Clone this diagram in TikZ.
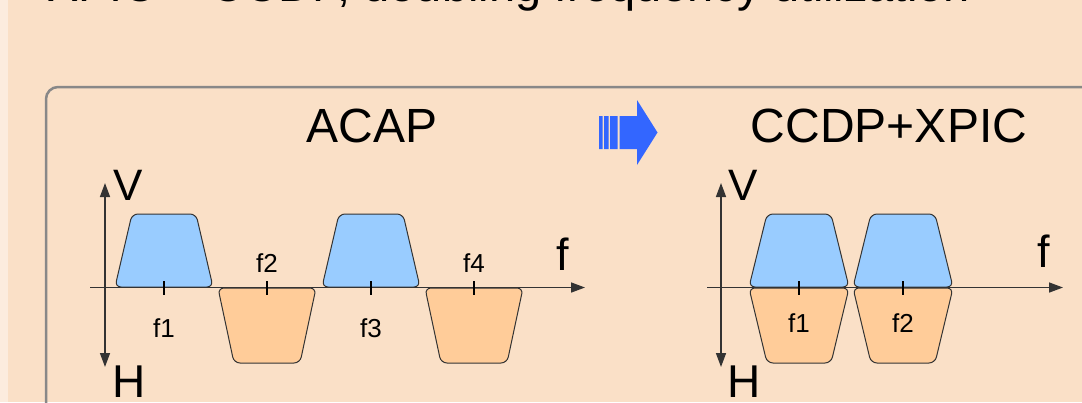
\documentclass[tikz,border=0pt]{standalone}
\usepackage{fontspec}
\setmainfont{Liberation Sans}
\usepackage{xcolor}
\usepackage{tikz}
\usetikzlibrary{arrows.meta,positioning}
\definecolor{slidebg}{RGB}{250,224,199}
\definecolor{slideedge}{RGB}{252,236,222}
\definecolor{boxgray}{RGB}{136,136,136}
\definecolor{axisgray}{RGB}{51,51,51}
\definecolor{lobeblue}{RGB}{153,204,255}
\definecolor{lobeorange}{RGB}{255,204,153}
\definecolor{movblue}{RGB}{51,102,255}

\begin{document}
\begin{tikzpicture}[x=1pt, y=-1pt,
  axis/.style={draw=axisgray, line width=1.5pt, {Triangle[length=14pt,width=10pt]}-{Triangle[length=14pt,width=10pt]}},
  faxis/.style={draw=axisgray, line width=1.5pt, -{Triangle[length=14pt,width=10pt]}},
  vlobe/.style={draw=axisgray, line width=1pt, fill=lobeblue, rounded corners=6pt},
  hlobe/.style={draw=axisgray, line width=1pt, fill=lobeorange, rounded corners=6pt},
  tick/.style={draw=black, line width=1.2pt},
  lbl/.style={inner sep=0pt, text=black}]
  \useasboundingbox (0,0) rectangle (1082,402);
  \clip (0,0) rectangle (1082,402);
  \fill[slidebg] (0,0) rectangle (1082,402);
  \fill[slideedge] (0,0) rectangle (8,402);
  \node[lbl, anchor=base west, font=\fontsize{47}{56}\selectfont] (title) at (47,1) {XPIC + CCDP, doubling frequency utilization};
  \draw[boxgray, line width=2.5pt, rounded corners=12pt] (46,440) -- (46,87) -- (1120,87);

  \node[lbl, anchor=base, font=\fontsize{48}{58}\selectfont] (acap) at (372,142) {ACAP};
  \node[lbl, anchor=base, font=\fontsize{48}{58}\selectfont] (ccdp) at (889,142) {CCDP+XPIC};
  \fill[movblue] (599,116) rectangle (602.5,149) (604,116) rectangle (608.5,149) (610,116) rectangle (617.5,149);
  \fill[movblue] (619.5,116) -- (637,116) -- (637,100) -- (657.5,132.5) -- (637,165) -- (637,149) -- (619.5,149) -- cycle;

  \foreach \cx in {164,371} \draw[vlobe] (\cx-49,287) -- (\cx-32,214) -- (\cx+32,214) -- (\cx+49,287) -- cycle;
  \foreach \cx in {267,474} \draw[hlobe] (\cx-49,288) -- (\cx+49,288) -- (\cx+33,363) -- (\cx-33,363) -- cycle;
  \foreach \cx in {799,903} {
    \draw[hlobe] (\cx-50,288) -- (\cx+50,288) -- (\cx+32,363) -- (\cx-32,363) -- cycle;
    \draw[vlobe] (\cx-50,287) -- (\cx-32,214) -- (\cx+32,214) -- (\cx+50,287) -- cycle;
  }

  \coordinate (lvtop) at (105,183);
  \coordinate (lvbot) at (105,367);
  \coordinate (lfbeg) at (90,287.5);
  \coordinate (lfend) at (585,287.5);
  \coordinate (rvtop) at (721,183);
  \coordinate (rvbot) at (721,367);
  \coordinate (rfbeg) at (707,287.5);
  \coordinate (rfend) at (1063,287.5);
  \draw[axis] (lvbot) -- (lvtop);
  \draw[faxis] (lfbeg) -- (lfend);
  \draw[axis] (rvbot) -- (rvtop);
  \draw[faxis] (rfbeg) -- (rfend);
  \foreach \cx in {164,267,371,474,799,903} \draw[tick] (\cx,281) -- (\cx,295);

  \node[lbl, anchor=base west, font=\fontsize{44}{52}\selectfont] (lv) at (113,200) {V};
  \node[lbl, anchor=base west, font=\fontsize{46}{54}\selectfont] (lh) at (112,397) {H};
  \node[lbl, anchor=base west, font=\fontsize{45}{54}\selectfont] (lf) at (556,270) {f};
  \node[lbl, anchor=base west, font=\fontsize{44}{52}\selectfont] (rv) at (728,200) {V};
  \node[lbl, anchor=base west, font=\fontsize{46}{54}\selectfont] (rh) at (727,397) {H};
  \node[lbl, anchor=base west, font=\fontsize{45}{54}\selectfont] (rf) at (1037,267) {f};

  \node[lbl, anchor=base, font=\fontsize{26}{31}\selectfont] (lf1) at (164,337) {f1};
  \node[lbl, anchor=base, font=\fontsize{26}{31}\selectfont] (lf2) at (267,272) {f2};
  \node[lbl, anchor=base, font=\fontsize{26}{31}\selectfont] (lf3) at (371,337) {f3};
  \node[lbl, anchor=base, font=\fontsize{26}{31}\selectfont] (lf4) at (474,272) {f4};
  \node[lbl, anchor=base, font=\fontsize{26}{31}\selectfont] (rf1) at (799,332) {f1};
  \node[lbl, anchor=base, font=\fontsize{26}{31}\selectfont] (rf2) at (903,332) {f2};
\end{tikzpicture}
\end{document}
